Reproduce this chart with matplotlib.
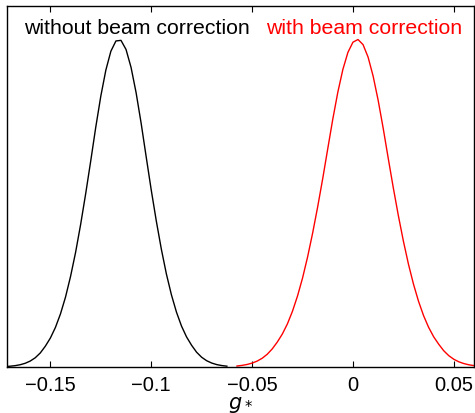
import matplotlib.pyplot as plt

# curve without beam correction (black)
g_nobeam = [-0.1715, -0.170, -0.1675, -0.165, -0.1625, -0.160, -0.1575, -0.155,
            -0.1525, -0.150, -0.1475, -0.145, -0.1425, -0.140, -0.1375, -0.135,
            -0.1325, -0.130, -0.1275, -0.125, -0.1225, -0.120, -0.1175, -0.115,
            -0.1125, -0.110, -0.1075, -0.105, -0.1025, -0.100, -0.0975, -0.095,
            -0.0925, -0.090, -0.0875, -0.085, -0.0825, -0.080, -0.0775, -0.075,
            -0.0725, -0.070, -0.0675, -0.065, -0.0625]
p_nobeam = [0.0017, 0.0024, 0.0041, 0.0069, 0.0113, 0.0181, 0.0282, 0.0429,
            0.0635, 0.0884, 0.1207, 0.1620, 0.2133, 0.2764, 0.3499, 0.4351,
            0.5289, 0.6288, 0.7320, 0.8268, 0.9063, 0.9641, 0.9953, 0.9971,
            0.9694, 0.9145, 0.8373, 0.7439, 0.6414, 0.5403, 0.4461, 0.3600,
            0.2843, 0.2205, 0.1676, 0.1250, 0.0919, 0.0664, 0.0450, 0.0297,
            0.0191, 0.0120, 0.0073, 0.0044, 0.0025]

# curve with beam correction (red)
g_beam = [-0.0575, -0.055, -0.0525, -0.050, -0.0475, -0.045, -0.0425, -0.040,
          -0.0375, -0.035, -0.0325, -0.030, -0.0275, -0.025, -0.0225, -0.020,
          -0.0175, -0.015, -0.0125, -0.010, -0.0075, -0.005, -0.0025, 0.0,
          0.0025, 0.005, 0.0075, 0.010, 0.0125, 0.015, 0.0175, 0.020,
          0.0225, 0.025, 0.0275, 0.030, 0.0325, 0.035, 0.0375, 0.040,
          0.0425, 0.045, 0.0475, 0.050, 0.0525, 0.055, 0.0575, 0.060]
p_beam = [0.0030, 0.0049, 0.0077, 0.0119, 0.0180, 0.0267, 0.0389, 0.0554,
          0.0762, 0.1008, 0.1316, 0.1700, 0.2165, 0.2714, 0.3357, 0.4086,
          0.4887, 0.5749, 0.6662, 0.7566, 0.8390, 0.9084, 0.9605, 0.9916,
          0.9997, 0.9841, 0.9459, 0.8879, 0.8138, 0.7283, 0.6365, 0.5468,
          0.4622, 0.3843, 0.3141, 0.2530, 0.2006, 0.1568, 0.1211, 0.0923,
          0.0696, 0.0496, 0.0346, 0.0236, 0.0158, 0.0104, 0.0067, 0.0042]

xticks = [-0.15, -0.1, -0.05, 0, 0.05]
xticklabels = ["\u22120.15", "\u22120.1", "\u22120.05", "0", "0.05"]

plt.rcParams['font.family'] = ['Liberation Sans', 'DejaVu Sans']

fig = plt.figure(figsize=(4.75, 4.14), dpi=100)
ax = fig.add_axes([7 / 475, 46 / 414, 467 / 475, 361 / 414])

ax.plot(g_nobeam, p_nobeam, color='black', lw=1.0)
ax.plot(g_beam, p_beam, color='red', lw=1.0)

ax.set_xlim(-0.1715, 0.0600)
ax.set_ylim(0, 1.102)

ax.set_xticks(xticks)
ax.set_xticklabels(xticklabels, fontsize=14.5)
ax.set_yticks([])
ax.tick_params(axis='x', direction='in', length=4, width=0.8, top=True, pad=6)
for sp in ax.spines.values():
    sp.set_linewidth(1.0)

ax.set_xlabel("$g_*$", fontsize=15, labelpad=0)

ax.text(-0.1632, 1.020, "without beam correction", color='black', fontsize=15.3, va='baseline')
ax.text(-0.0433, 1.020, "with beam correction", color='red', fontsize=15.3, va='baseline')

fig.savefig("out.png", dpi=100)
